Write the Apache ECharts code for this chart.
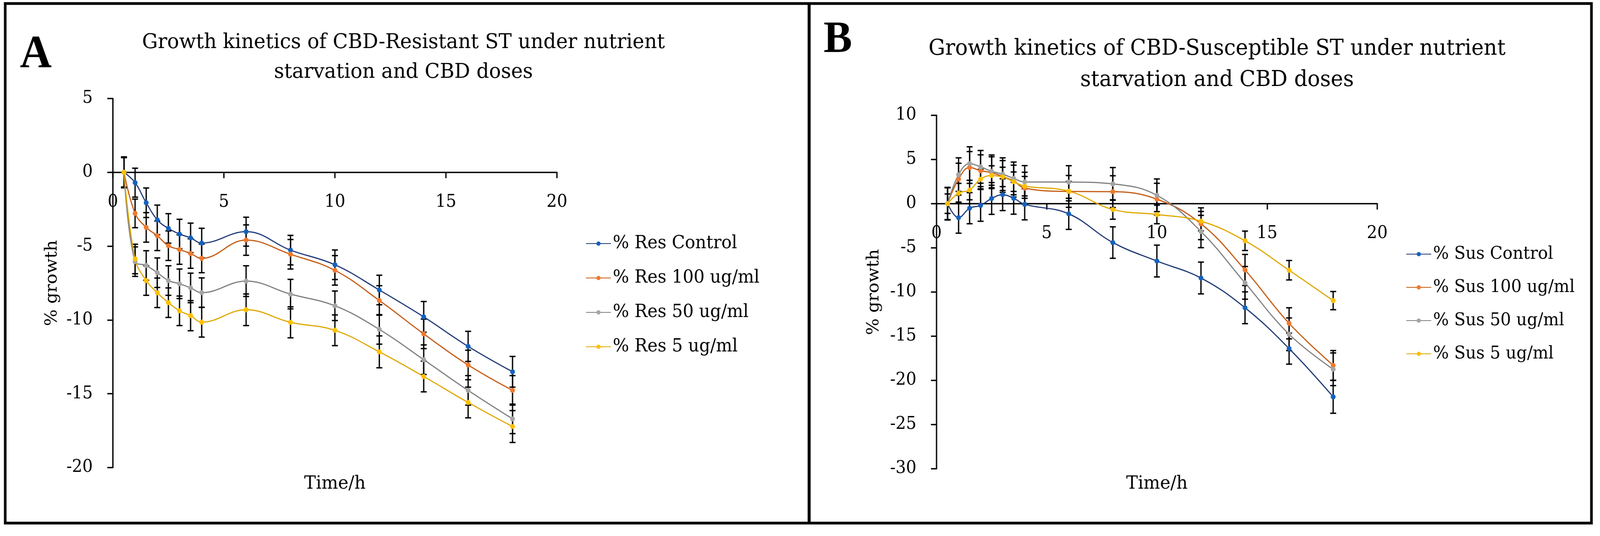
<!DOCTYPE html>
<html>
<head>
<meta charset="utf-8">
<script src="https://cdn.jsdelivr.net/npm/echarts@6/dist/echarts.min.js"></script>
<style>
html,body{margin:0;padding:0;background:#fff;overflow:hidden;}
#wrap{width:4295px;height:1371px;transform-origin:0 0;}
#chart{width:4295px;height:1371px;}
</style>
</head>
<body>
<div id="wrap"><div id="chart"></div></div>
<script>
// ---- Data ----
const time = [0.5, 1, 1.5, 2, 2.5, 3, 3.5, 4, 6, 8, 10, 12, 14, 16, 18];

const resNames = ['% Res Control', '% Res 100 ug/ml', '% Res 50 ug/ml', '% Res 5 ug/ml'];
const resControl = [0, -0.70, -2.06, -3.22, -3.80, -4.18, -4.44, -4.79, -4.02, -5.27, -6.26, -7.97, -9.79, -11.79, -13.51];
const res100     = [0, -2.78, -3.73, -4.30, -4.97, -5.23, -5.50, -5.83, -4.59, -5.55, -6.64, -8.68, -10.94, -13.05, -14.77];
const res50      = [0, -6.05, -6.31, -6.80, -7.33, -7.55, -7.83, -8.15, -7.37, -8.25, -9.04, -10.64, -12.69, -14.77, -16.70];
const res5       = [0, -5.87, -7.33, -8.16, -8.83, -9.38, -9.71, -10.15, -9.31, -10.16, -10.70, -12.16, -13.83, -15.59, -17.22];
const resControlErr = [1.05, 0.98, 1.00, 1.00, 1.00, 1.00, 1.00, 1.00, 0.98, 1.00, 1.00, 1.00, 1.04, 1.02, 1.04];
const res100Err     = [1.00, 0.97, 1.00, 1.00, 1.00, 1.00, 1.00, 0.97, 1.03, 1.00, 1.00, 1.00, 1.00, 1.00, 1.00];
const res50Err      = [1.00, 1.00, 1.00, 1.00, 1.00, 1.00, 1.00, 1.00, 1.04, 1.00, 1.00, 1.00, 1.00, 1.00, 1.00];
const res5Err       = [1.00, 1.00, 1.00, 1.00, 1.00, 1.00, 1.02, 1.01, 1.07, 1.05, 1.04, 1.08, 1.04, 1.04, 1.08];

const susNames = ['% Sus Control', '% Sus 100 ug/ml', '% Sus 50 ug/ml', '% Sus 5 ug/ml'];
const susControl = [0, -1.58, -0.51, -0.19, 0.59, 1.02, 0.61, -0.07, -1.15, -4.40, -6.49, -8.41, -11.78, -16.40, -21.86];
const sus100     = [0, 2.78, 4.10, 3.73, 3.51, 3.08, 2.56, 1.76, 1.39, 1.36, 0.51, -2.27, -7.50, -13.54, -18.30];
const sus50      = [0, 3.29, 4.54, 4.17, 3.66, 3.34, 2.86, 2.46, 2.45, 2.24, 0.95, -3.15, -8.96, -14.78, -18.74];
const sus5       = [0, 1.20, 1.54, 2.78, 3.19, 3.03, 2.49, 1.98, 1.42, -0.66, -1.22, -1.98, -4.20, -7.53, -10.97];
const susControlErr = [1.80, 1.76, 1.76, 1.80, 1.80, 1.80, 1.80, 1.76, 1.76, 1.78, 1.80, 1.80, 1.80, 1.76, 1.86];
const sus100Err     = [1.80, 1.80, 1.80, 1.80, 1.80, 1.80, 1.80, 1.80, 1.80, 1.80, 1.80, 1.80, 1.76, 1.76, 1.68];
const sus50Err      = [1.85, 1.90, 1.90, 1.85, 1.85, 1.85, 1.85, 1.85, 1.85, 1.85, 1.85, 1.83, 1.85, 1.85, 1.85];
const sus5Err       = [1.10, 1.10, 1.10, 1.10, 1.10, 1.10, 1.10, 1.10, 1.10, 1.10, 1.05, 1.10, 1.10, 1.10, 1.03];

const xRange = [0, 20];
const resYRange = [-20, 5];
const susYRange = [-30, 10];

// ---- fit the 4295px-wide design into the actual viewport width ----
const vw = Math.min(window.innerWidth || 4295, document.documentElement.clientWidth || 4295);
const sx = Math.min(1, vw / 4295);
document.getElementById('wrap').style.transform = 'scale(' + sx + ',1)';

// ---- Styles ----
const markerColors = ['#1462BE', '#F07A2D', '#A5A5A5', '#FFC000'];
const lineColors   = ['#1F3A77', '#C55A11', '#7F7F7F', '#DFA800'];
const FONT = 'DejaVu Serif';

function lineSeries(name, vals, idx, gi) {
  return {
    name: name, type: 'line', xAxisIndex: gi, yAxisIndex: gi,
    data: time.map((t, i) => [t, vals[i]]),
    smooth: 0.4, symbol: 'circle', symbolSize: 13,
    lineStyle: { color: lineColors[idx], width: 3 },
    itemStyle: { color: markerColors[idx] },
    z: 4, animation: false
  };
}
function errSeries(name, vals, errs, gi) {
  return {
    name: name + ' err', type: 'custom', coordinateSystem: 'cartesian2d',
    xAxisIndex: gi, yAxisIndex: gi,
    data: time.map((t, i) => [t, vals[i], errs[i]]),
    encode: { x: 0, y: 1 },
    z: 3, animation: false, silent: true,
    renderItem: function (params, api) {
      const x = api.value(0), y = api.value(1), e = api.value(2);
      const top = api.coord([x, y + e]);
      const bot = api.coord([x, y - e]);
      const w = 8;
      const st = { stroke: '#000', lineWidth: 3.5 };
      return { type: 'group', children: [
        { type: 'line', shape: { x1: top[0], y1: top[1], x2: bot[0], y2: bot[1] }, style: st },
        { type: 'line', shape: { x1: top[0] - w, y1: top[1], x2: top[0] + w, y2: top[1] }, style: st },
        { type: 'line', shape: { x1: bot[0] - w, y1: bot[1], x2: bot[0] + w, y2: bot[1] }, style: st }
      ]};
    }
  };
}

function xAxisCfg(gi, gridH, yr, gap) {
  // place the x axis on the y = 0 line
  const off = -gridH * (0 - yr[0]) / (yr[1] - yr[0]);
  return {
    gridIndex: gi, type: 'value', min: xRange[0], max: xRange[1], interval: 5,
    position: 'bottom', offset: off,
    axisLine: { show: true, onZero: false, lineStyle: { color: '#000', width: 3.5 } },
    axisTick: { show: true, length: 15, lineStyle: { color: '#000', width: 3.5 } },
    axisLabel: { margin: 55, fontSize: 44, fontFamily: FONT, color: '#000' },
    splitLine: { show: false },
    name: 'Time/h', nameLocation: 'middle', nameGap: gap,
    nameTextStyle: { fontSize: 47, fontFamily: FONT, color: '#000' }
  };
}
function yAxisCfg(gi, yr, gap) {
  return {
    gridIndex: gi, type: 'value', min: yr[0], max: yr[1], interval: 5,
    axisLine: { show: true, onZero: false, lineStyle: { color: '#000', width: 3.5 } },
    axisTick: { show: true, length: 15, lineStyle: { color: '#000', width: 3.5 } },
    axisLabel: { margin: 54, fontSize: 44, fontFamily: FONT, color: '#000' },
    splitLine: { show: false },
    name: '% growth', nameLocation: 'middle', nameRotate: 90, nameGap: gap,
    nameTextStyle: { fontSize: 45, fontFamily: FONT, color: '#000' }
  };
}
function legendCfg(names, left, top, gap, fs) {
  return {
    data: names, orient: 'vertical', left: left, top: top, padding: 0,
    itemWidth: 67, itemHeight: 14, itemGap: gap, align: 'left',
    textStyle: { fontSize: fs, fontFamily: FONT, color: '#000', lineHeight: 50 }
  };
}
function txt(s, x, y, size, weight, family) {
  return { type: 'text', x: x, y: y, silent: true,
    style: { text: s, fontSize: size, fontWeight: weight || 'normal', fontFamily: family || FONT,
      fill: '#000', textAlign: 'center', textVerticalAlign: 'middle' } };
}

const chart = echarts.init(document.getElementById('chart'));
const resVals = [resControl, res100, res50, res5];
const resErrs = [resControlErr, res100Err, res50Err, res5Err];
const susVals = [susControl, sus100, sus50, sus5];
const susErrs = [susControlErr, sus100Err, sus50Err, sus5Err];

const series = [];
for (let k = 0; k < 4; k++) series.push(errSeries(resNames[k], resVals[k], resErrs[k], 0));
for (let k = 0; k < 4; k++) series.push(lineSeries(resNames[k], resVals[k], k, 0));
for (let k = 0; k < 4; k++) series.push(errSeries(susNames[k], susVals[k], susErrs[k], 1));
for (let k = 0; k < 4; k++) series.push(lineSeries(susNames[k], susVals[k], k, 1));

const gA = { left: 303, top: 252, width: 1192, height: 944, containLabel: false, outerBoundsMode: 'none' };
const gB = { left: 2514, top: 295, width: 1183, height: 904, containLabel: false, outerBoundsMode: 'none' };

chart.setOption({
  backgroundColor: '#fff',
  animation: false,
  grid: [gA, gB],
  xAxis: [xAxisCfg(0, gA.height, resYRange, 773), xAxisCfg(1, gB.height, susYRange, 693)],
  yAxis: [yAxisCfg(0, resYRange, 140), yAxisCfg(1, susYRange, 145)],
  legend: [legendCfg(resNames, 1572, 598, 38, 46), legendCfg(susNames, 3774, 625, 35, 44.5)],
  graphic: [
    { type: 'rect', silent: true, shape: { x: 14, y: 9, width: 4258, height: 1329 },
      style: { fill: 'none', stroke: '#000', lineWidth: 7 } },
    { type: 'line', silent: true, shape: { x1: 2172, y1: 9, x2: 2172, y2: 1338 },
      style: { stroke: '#000', lineWidth: 8 } },
    txt('A', 96, 142, 118, 'bold', 'Liberation Serif'),
    txt('B', 2249, 103, 115, 'bold', 'Liberation Serif'),
    txt('Growth kinetics of CBD-Resistant ST under nutrient', 1083, 109, 53),
    txt('starvation and CBD doses', 1083, 185, 53),
    txt('Growth kinetics of CBD-Susceptible ST under nutrient', 3267, 125, 56),
    txt('starvation and CBD doses', 3267, 205, 56)
  ],
  series: series
});
</script>
</body>
</html>
